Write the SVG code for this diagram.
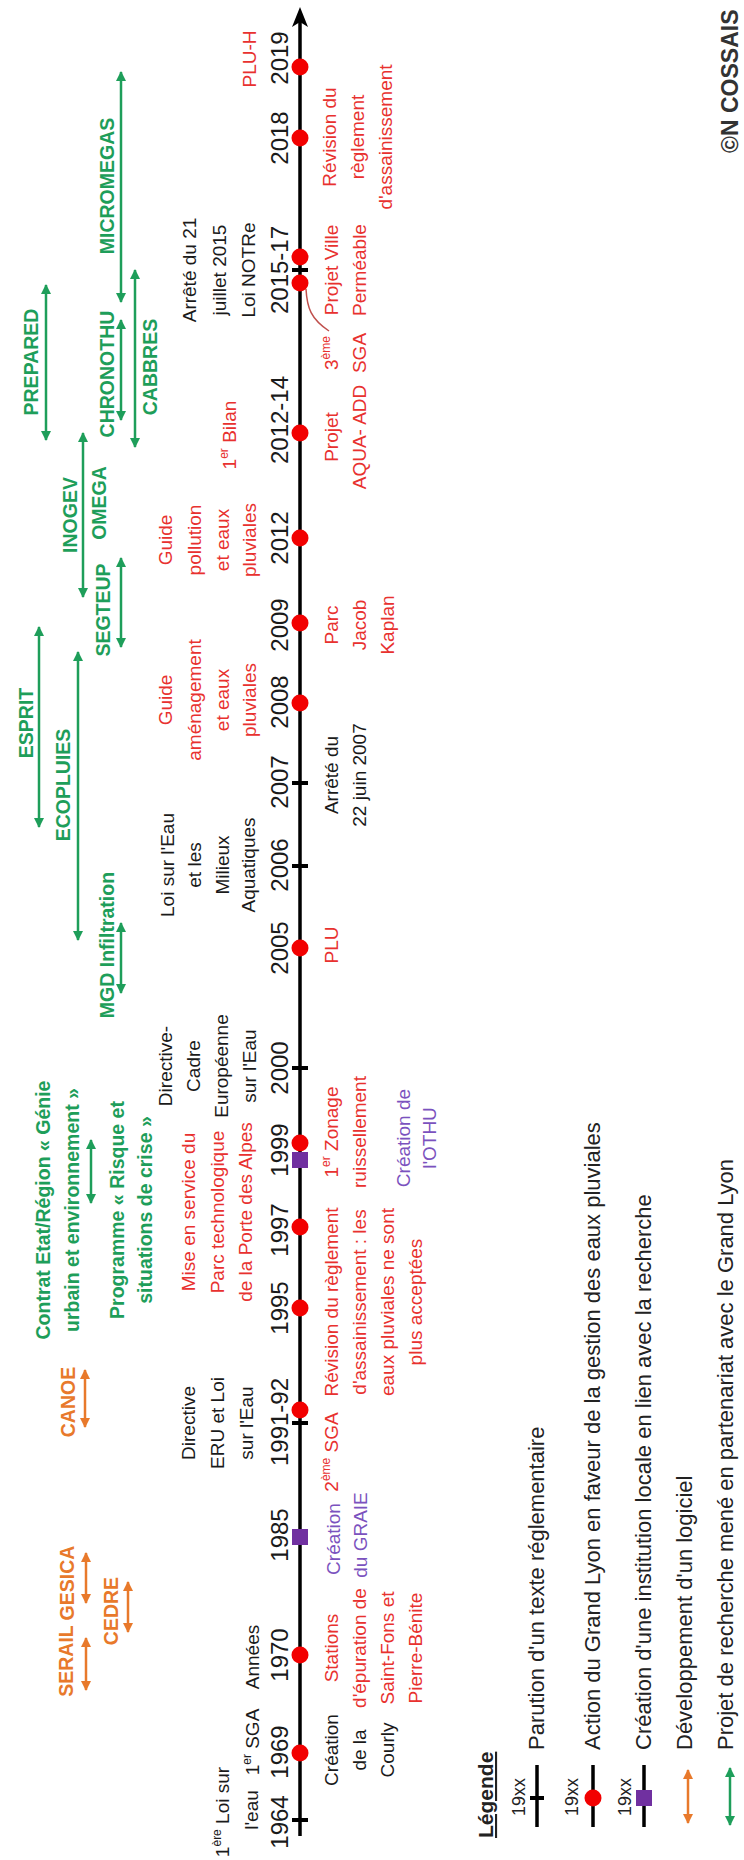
<svg xmlns="http://www.w3.org/2000/svg" width="744" height="1860" viewBox="0 0 744 1860">
<style>
text{font-family:"Liberation Sans",Arial,sans-serif}
.yr{font-size:24px;fill:#1a1a1a;text-anchor:middle}
.lb{font-size:19px;text-anchor:middle}
.k{fill:#1a1a1a}
.r{fill:#E8312F}
.p{fill:#7B52BE}
.pj{font-weight:700;font-size:19.5px;text-anchor:middle}
.g{fill:#1E9E5A}
.o{fill:#E8792B}
.ga{stroke:#1E9E5A;stroke-width:2.5;fill:none;marker-start:url(#mg);marker-end:url(#mg)}
.oa{stroke:#E8792B;stroke-width:2.5;fill:none;marker-start:url(#mo);marker-end:url(#mo)}
.dot{fill:#F20000}
.sq{fill:#7030A0}
.tk{stroke:#000;stroke-width:4}
.ax{stroke:#000;stroke-width:3.5}
.lg{font-size:22px;fill:#222}
.xx{font-size:18px;fill:#222;text-anchor:middle}
.sup{font-size:12px}
</style>
<defs>
<marker id="mg" viewBox="0 0 10 10" refX="9" refY="5" markerWidth="11" markerHeight="10" markerUnits="userSpaceOnUse" orient="auto-start-reverse"><path d="M0,0L10,5L0,10z" fill="#1E9E5A"/></marker>
<marker id="mo" viewBox="0 0 10 10" refX="9" refY="5" markerWidth="11" markerHeight="10" markerUnits="userSpaceOnUse" orient="auto-start-reverse"><path d="M0,0L10,5L0,10z" fill="#E8792B"/></marker>
</defs>
<rect width="744" height="1860" fill="#fff"/>
<g transform="matrix(0 -1 1 0 0 1860)">

<g id="axis">
<line class="ax" x1="24" y1="300" x2="1840" y2="300"/>
<path d="M1853,300L1833,292L1838,300L1833,308Z" fill="#000"/>
</g>

<g id="years">
<text class="yr" x="38" y="288">1964</text>
<text class="yr" x="108" y="288">1969</text>
<text class="yr" x="205" y="288">1970</text>
<text class="yr" x="325" y="288">1985</text>
<text class="yr" x="438" y="288">1991-92</text>
<text class="yr" x="552" y="288">1995</text>
<text class="yr" x="630" y="288">1997</text>
<text class="yr" x="710" y="288">1999</text>
<text class="yr" x="792" y="288">2000</text>
<text class="yr" x="912" y="288">2005</text>
<text class="yr" x="995" y="288">2006</text>
<text class="yr" x="1078" y="288">2007</text>
<text class="yr" x="1158" y="288">2008</text>
<text class="yr" x="1235" y="288">2009</text>
<text class="yr" x="1322" y="288">2012</text>
<text class="yr" x="1440" y="288">2012-14</text>
<text class="yr" x="1590" y="288">2015-17</text>
<text class="yr" x="1722" y="288">2018</text>
<text class="yr" x="1802" y="288">2019</text>
</g>

<g id="connectors">
<path d="M1571,306C1552,307 1541,311 1529,329" fill="none" stroke="#C0504D" stroke-width="1.5"/>
</g>

<g id="e1964">
<line class="tk" x1="40" y1="292" x2="40" y2="308"/>
<text class="lb k"><tspan x="48" y="229">1<tspan class="sup" dy="-8">ère</tspan><tspan dy="8"> Loi sur</tspan></tspan><tspan x="50" y="258">l'eau</tspan></text>
</g>
<g id="e1969">
<circle class="dot" cx="107" cy="300" r="8.5"/>
<text class="lb k" x="118" y="259">1<tspan class="sup" dy="-8">er</tspan><tspan dy="8"> SGA</tspan></text>
<text class="lb k"><tspan x="110" y="338">Création</tspan><tspan x="110" y="366">de la</tspan><tspan x="110" y="394">Courly</tspan></text>
</g>
<g id="e1970">
<circle class="dot" cx="205" cy="300" r="8.5"/>
<text class="lb k" x="203" y="259">Années</text>
<text class="lb r"><tspan x="212" y="338">Stations</tspan><tspan x="212" y="366">d'épuration de</tspan><tspan x="212" y="394">Saint-Fons et</tspan><tspan x="212" y="422">Pierre-Bénite</tspan></text>
</g>
<g id="e1985">
<rect class="sq" x="315" y="292" width="16" height="16"/>
<text class="lb p"><tspan x="321" y="340">Création</tspan><tspan x="325" y="367">du GRAIE</tspan></text>
</g>
<g id="e1991">
<line class="tk" x1="437" y1="292" x2="437" y2="308"/>
<circle class="dot" cx="450" cy="300" r="8.5"/>
<text class="lb k"><tspan x="437" y="195">Directive</tspan><tspan x="437" y="224">ERU et Loi</tspan><tspan x="437" y="253">sur l'Eau</tspan></text>
<text class="lb r" x="408" y="338">2<tspan class="sup" dy="-8">ème</tspan><tspan dy="8"> SGA</tspan></text>
</g>
<g id="e1995">
<circle class="dot" cx="552" cy="300" r="8.5"/>
<text class="lb r"><tspan x="558" y="338">Révision du règlement</tspan><tspan x="558" y="366">d'assainissement : les</tspan><tspan x="558" y="394">eaux pluviales ne sont</tspan><tspan x="558" y="422">plus acceptées</tspan></text>
</g>
<g id="e1997">
<circle class="dot" cx="633" cy="300" r="8.5"/>
<text class="lb r"><tspan x="648" y="195">Mise en service du</tspan><tspan x="648" y="224">Parc technologique</tspan><tspan x="648" y="252">de la Porte des Alpes</tspan></text>
</g>
<g id="e1999">
<rect class="sq" x="692" y="292" width="16" height="16"/>
<circle class="dot" cx="717" cy="300" r="8.5"/>
<text class="lb r"><tspan x="728" y="338">1<tspan class="sup" dy="-8">er</tspan><tspan dy="8"> Zonage</tspan></tspan><tspan x="728" y="366">ruissellement</tspan></text>
<text class="lb p"><tspan x="722" y="410">Création de</tspan><tspan x="722" y="436">l'OTHU</tspan></text>
</g>
<g id="e2000">
<line class="tk" x1="792" y1="292" x2="792" y2="308"/>
<text class="lb k"><tspan x="794" y="172">Directive-</tspan><tspan x="794" y="200">Cadre</tspan><tspan x="794" y="228">Européenne</tspan><tspan x="794" y="256">sur l'Eau</tspan></text>
</g>
<g id="e2005">
<circle class="dot" cx="912" cy="300" r="8.5"/>
<text class="lb r" x="915" y="338">PLU</text>
</g>
<g id="e2006">
<line class="tk" x1="994" y1="292" x2="994" y2="308"/>
<text class="lb k"><tspan x="995" y="174">Loi sur l'Eau</tspan><tspan x="995" y="201">et les</tspan><tspan x="995" y="229">Milieux</tspan><tspan x="995" y="255">Aquatiques</tspan></text>
</g>
<g id="e2007">
<line class="tk" x1="1077" y1="292" x2="1077" y2="308"/>
<text class="lb k"><tspan x="1085" y="338">Arrêté du</tspan><tspan x="1085" y="366">22 juin 2007</tspan></text>
</g>
<g id="e2008">
<circle class="dot" cx="1157" cy="300" r="8.5"/>
<text class="lb r"><tspan x="1160" y="172">Guide</tspan><tspan x="1160" y="201">aménagement</tspan><tspan x="1160" y="229">et eaux</tspan><tspan x="1160" y="256">pluviales</tspan></text>
</g>
<g id="e2009">
<circle class="dot" cx="1237" cy="300" r="8.5"/>
<text class="lb r"><tspan x="1235" y="338">Parc</tspan><tspan x="1235" y="366">Jacob</tspan><tspan x="1235" y="394">Kaplan</tspan></text>
</g>
<g id="e2012">
<circle class="dot" cx="1322" cy="300" r="8.5"/>
<text class="lb r"><tspan x="1320" y="172">Guide</tspan><tspan x="1320" y="201">pollution</tspan><tspan x="1320" y="229">et eaux</tspan><tspan x="1320" y="256">pluviales</tspan></text>
</g>
<g id="e2012-14">
<circle class="dot" cx="1427" cy="300" r="8.5"/>
<text class="lb r" x="1425" y="236">1<tspan class="sup" dy="-8">er</tspan><tspan dy="8"> Bilan</tspan></text>
<text class="lb r"><tspan x="1423" y="338">Projet</tspan><tspan x="1423" y="366">AQUA- ADD</tspan></text>
</g>
<g id="e2015-17">
<circle class="dot" cx="1577" cy="300" r="8.5"/>
<line class="tk" x1="1590" y1="292" x2="1590" y2="308"/>
<circle class="dot" cx="1603" cy="300" r="8.5"/>
<text class="lb k"><tspan x="1590" y="196">Arrêté du 21</tspan><tspan x="1590" y="226">juillet 2015</tspan><tspan x="1590" y="255">Loi NOTRe</tspan></text>
<text class="lb r"><tspan x="1507" y="338">3<tspan class="sup" dy="-8">ème</tspan></tspan><tspan x="1507" y="366">SGA</tspan></text>
<text class="lb r"><tspan x="1590" y="338">Projet Ville</tspan><tspan x="1590" y="366">Perméable</tspan></text>
</g>
<g id="e2018">
<circle class="dot" cx="1722" cy="300" r="8.5"/>
<text class="lb r"><tspan x="1723" y="336">Révision du</tspan><tspan x="1723" y="364">règlement</tspan><tspan x="1723" y="392">d'assainissement</tspan></text>
</g>
<g id="e2019">
<circle class="dot" cx="1793" cy="300" r="8.5"/>
<text class="lb r" x="1801" y="256">PLU-H</text>
</g>

<g id="p-serail"><text class="pj o" x="199" y="73">SERAIL</text><line class="oa" x1="170" y1="86" x2="222" y2="86"/></g>
<g id="p-gesica"><text class="pj o" x="277" y="74">GESICA</text><line class="oa" x1="257" y1="86" x2="307" y2="86"/></g>
<g id="p-cedre"><text class="pj o" x="249" y="118">CEDRE</text><line class="oa" x1="228" y1="128" x2="278" y2="128"/></g>
<g id="p-canoe"><text class="pj o" x="458" y="75">CANOE</text><line class="oa" x1="433" y1="85" x2="490" y2="85"/></g>
<g id="p-contrat">
<text class="pj g"><tspan x="650" y="50">Contrat Etat/Région « Génie</tspan><tspan x="650" y="79">urbain et environnement »</tspan><tspan x="650" y="124">Programme « Risque et</tspan><tspan x="650" y="152">situations de crise »</tspan></text>
<line class="ga" x1="657" y1="91" x2="720" y2="91"/>
</g>
<g id="p-mgd"><text class="pj g" x="915" y="114">MGD Infiltration</text><line class="ga" x1="867" y1="121" x2="937" y2="121"/></g>
<g id="p-ecopluies"><text class="pj g" x="1075" y="70">ECOPLUIES</text><line class="ga" x1="920" y1="78" x2="1208" y2="78"/></g>
<g id="p-esprit"><text class="pj g" x="1137" y="33">ESPRIT</text><line class="ga" x1="1033" y1="39" x2="1233" y2="39"/></g>
<g id="p-segteup"><text class="pj g" x="1250" y="110">SEGTEUP</text><line class="ga" x1="1213" y1="121" x2="1302" y2="121"/></g>
<g id="p-inogev"><text class="pj g" x="1345" y="77">INOGEV</text><line class="ga" x1="1263" y1="83" x2="1427" y2="83"/></g>
<g id="p-omega"><text class="pj g" x="1357" y="106">OMEGA</text></g>
<g id="p-chronothu"><text class="pj g" x="1486" y="114">CHRONOTHU</text><line class="ga" x1="1440" y1="121" x2="1540" y2="121"/></g>
<g id="p-cabbres"><text class="pj g" x="1493" y="157">CABBRES</text><line class="ga" x1="1413" y1="135" x2="1590" y2="135"/></g>
<g id="p-prepared"><text class="pj g" x="1498" y="38">PREPARED</text><line class="ga" x1="1420" y1="46" x2="1575" y2="46"/></g>
<g id="p-micromegas"><text class="pj g" x="1674" y="114">MICROMEGAS</text><line class="ga" x1="1558" y1="121" x2="1788" y2="121"/></g>

<g id="credit"><text x="1707" y="738" font-size="23" font-weight="700" fill="#333">©N COSSAIS</text></g>

<g id="legend">
<text x="22" y="493" font-size="21" font-weight="700" fill="#222" text-decoration="underline">Légende</text>
<g id="leg1">
<text class="xx" x="63" y="525">19xx</text>
<line class="ax" x1="33" y1="537" x2="95" y2="537"/>
<line class="tk" x1="62" y1="530" x2="62" y2="544"/>
<text class="lg" x="110" y="544">Parution d'un texte réglementaire</text>
</g>
<g id="leg2">
<text class="xx" x="63" y="578">19xx</text>
<line class="ax" x1="33" y1="593" x2="95" y2="593"/>
<circle class="dot" cx="62" cy="593" r="8.5"/>
<text class="lg" x="110" y="600">Action du Grand Lyon en faveur de la gestion des eaux pluviales</text>
</g>
<g id="leg3">
<text class="xx" x="63" y="631">19xx</text>
<line class="ax" x1="33" y1="644" x2="95" y2="644"/>
<rect class="sq" x="54" y="636" width="16" height="16"/>
<text class="lg" x="110" y="651">Création d'une institution locale en lien avec la recherche</text>
</g>
<g id="leg4">
<line class="oa" x1="37" y1="688" x2="90" y2="688"/>
<text class="lg" x="110" y="692">Développement d'un logiciel</text>
</g>
<g id="leg5">
<line class="ga" x1="35" y1="730" x2="92" y2="730"/>
<text class="lg" x="110" y="733">Projet de recherche mené en partenariat avec le Grand Lyon</text>
</g>
</g>

</g>
</svg>
